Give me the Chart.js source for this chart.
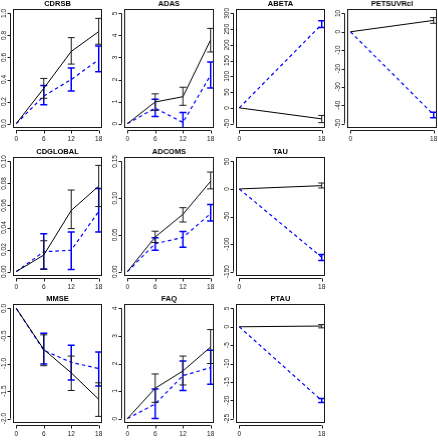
<!DOCTYPE html>
<html lang="en">
<head>
<meta charset="UTF-8">
<title>Change from baseline by visit</title>
<script src="https://cdn.jsdelivr.net/npm/chart.js"></script>
<style>
  body { margin: 0; background: #fff; }
  #wrap { position: relative; width: 438px; height: 440px; overflow: hidden; background: #fff; }
  #wrap canvas { position: absolute; }
</style>
</head>
<body>
<div id="wrap"></div>
<script>
// visit months on the x axis
const visits4 = [0, 6, 12, 18];
const visits2 = [0, 18];

// CDRSB
const cdrsbSolid = [0, 0.32, 0.655, 0.835];
const cdrsbSolidLo = [null, 0.23, 0.54, 0.72];
const cdrsbSolidHi = [null, 0.41, 0.78, 0.955];
const cdrsbDash = [0, 0.25, 0.40, 0.58];
const cdrsbDashLo = [null, 0.17, 0.295, 0.47];
const cdrsbDashHi = [null, 0.345, 0.505, 0.705];
const cdrsbTicks = [0, 0.2, 0.4, 0.6, 0.8, 1.0];
const cdrsbLabels = ["0.0", "0.2", "0.4", "0.6", "0.8", "1.0"];

// ADAS
const adasSolid = [0, 0.98, 1.22, 3.8];
const adasSolidLo = [null, 0.6, 0.83, 3.25];
const adasSolidHi = [null, 1.35, 1.65, 4.32];
const adasDash = [0, 0.7, 0.05, 2.2];
const adasDashLo = [null, 0.32, -0.35, 1.62];
const adasDashHi = [null, 1.1, 0.5, 2.79];
const adasTicks = [0, 1, 2, 3, 4, 5];
const adasLabels = ["0", "1", "2", "3", "4", "5"];

// ABETA
const abetaSolid = [0, -35];
const abetaSolidLo = [null, -47];
const abetaSolidHi = [null, -24];
const abetaDash = [0, 265];
const abetaDashLo = [null, 255];
const abetaDashHi = [null, 277];
const abetaTicks = [-50, 0, 50, 100, 150, 200, 250, 300];
const abetaLabels = ["-50", "0", "50", "100", "150", "200", "250", "300"];

// PETSUVRcl
const petSolid = [0, 6.2];
const petSolidLo = [null, 4.6];
const petSolidHi = [null, 7.7];
const petDash = [0, -45.2];
const petDashLo = [null, -46.8];
const petDashHi = [null, -43.8];
const petTicks = [-50, -40, -30, -20, -10, 0, 10];
const petLabels = ["-50", "-40", "-30", "-20", "-10", "0", "10"];

// CDGLOBAL
const cdgSolid = [0, 0.015, 0.0555, 0.0776];
const cdgSolidLo = [null, 0.002, 0.039, 0.059];
const cdgSolidHi = [null, 0.028, 0.074, 0.0964];
const cdgDash = [0, 0.018, 0.0194, 0.0546];
const cdgDashLo = [null, 0.0024, 0.002, 0.036];
const cdgDashHi = [null, 0.0343, 0.036, 0.0755];
const cdgTicks = [0, 0.02, 0.04, 0.06, 0.08, 0.10];
const cdgLabels = ["0.00", "0.02", "0.04", "0.06", "0.08", "0.10"];

// ADCOMS
const adcomsSolid = [0, 0.047, 0.078, 0.123];
const adcomsSolidLo = [null, 0.0396, 0.0675, 0.1126];
const adcomsSolidHi = [null, 0.055, 0.087, 0.1355];
const adcomsDash = [0, 0.038, 0.0465, 0.079];
const adcomsDashLo = [null, 0.029, 0.033, 0.069];
const adcomsDashHi = [null, 0.046, 0.0545, 0.0914];
const adcomsTicks = [0, 0.05, 0.10, 0.15];
const adcomsLabels = ["0.00", "0.05", "0.10", "0.15"];

// TAU
const tauSolid = [0, 6];
const tauSolidLo = [null, 1.8];
const tauSolidHi = [null, 10.8];
const tauDash = [0, -124];
const tauDashLo = [null, -130];
const tauDashHi = [null, -119];
const tauTicks = [-150, -100, -50, 0, 50];
const tauLabels = ["-150", "-100", "-50", "0", "50"];

// MMSE
const mmseSolid = [0, -0.745, -1.17, -1.65];
const mmseSolidLo = [null, -1.04, -1.49, -1.96];
const mmseSolidHi = [null, -0.48, -0.865, -1.35];
const mmseDash = [0, -0.76, -0.98, -1.09];
const mmseDashLo = [null, -1.01, -1.30, -1.41];
const mmseDashHi = [null, -0.45, -0.67, -0.79];
const mmseTicks = [-2.0, -1.5, -1.0, -0.5, 0.0];
const mmseLabels = ["-2.0", "-1.5", "-1.0", "-0.5", "0.0"];

// FAQ
const faqSolid = [0, 1.1, 1.73, 2.6];
const faqSolidLo = [null, 0.59, 1.22, 2.0];
const faqSolidHi = [null, 1.62, 2.27, 3.23];
const faqDash = [0, 0.53, 1.56, 1.85];
const faqDashLo = [null, 0.0, 1.02, 1.25];
const faqDashHi = [null, 1.07, 2.09, 2.48];
const faqTicks = [0, 1, 2, 3, 4];
const faqLabels = ["0", "1", "2", "3", "4"];

// PTAU
const ptauSolid = [0, 0.2];
const ptauSolidLo = [null, -0.3];
const ptauSolidHi = [null, 0.6];
const ptauDash = [0, -20.1];
const ptauDashLo = [null, -20.6];
const ptauDashHi = [null, -19.5];
const ptauTicks = [-25, -20, -15, -10, -5, 0, 5];
const ptauLabels = ["-25", "-20", "-15", "-10", "-5", "0", "5"];

// layout of the grid (plot boxes)
const boxLefts = [12.5, 124, 235.5, 347];
const boxTops = [9, 156.5, 304];
const boxW = 89.5;
const boxH = 119;
const padL = 13, padT = 10, padR = 8, padB = 17;

const panels = [
  { title: "CDRSB", row: 0, col: 0, x: visits4, s: cdrsbSolid, sLo: cdrsbSolidLo, sHi: cdrsbSolidHi, d: cdrsbDash, dLo: cdrsbDashLo, dHi: cdrsbDashHi, ticks: cdrsbTicks, labels: cdrsbLabels },
  { title: "ADAS", row: 0, col: 1, x: visits4, s: adasSolid, sLo: adasSolidLo, sHi: adasSolidHi, d: adasDash, dLo: adasDashLo, dHi: adasDashHi, ticks: adasTicks, labels: adasLabels },
  { title: "ABETA", row: 0, col: 2, x: visits2, s: abetaSolid, sLo: abetaSolidLo, sHi: abetaSolidHi, d: abetaDash, dLo: abetaDashLo, dHi: abetaDashHi, ticks: abetaTicks, labels: abetaLabels },
  { title: "PETSUVRcl", row: 0, col: 3, x: visits2, s: petSolid, sLo: petSolidLo, sHi: petSolidHi, d: petDash, dLo: petDashLo, dHi: petDashHi, ticks: petTicks, labels: petLabels },
  { title: "CDGLOBAL", row: 1, col: 0, x: visits4, s: cdgSolid, sLo: cdgSolidLo, sHi: cdgSolidHi, d: cdgDash, dLo: cdgDashLo, dHi: cdgDashHi, ticks: cdgTicks, labels: cdgLabels },
  { title: "ADCOMS", row: 1, col: 1, x: visits4, s: adcomsSolid, sLo: adcomsSolidLo, sHi: adcomsSolidHi, d: adcomsDash, dLo: adcomsDashLo, dHi: adcomsDashHi, ticks: adcomsTicks, labels: adcomsLabels },
  { title: "TAU", row: 1, col: 2, x: visits2, s: tauSolid, sLo: tauSolidLo, sHi: tauSolidHi, d: tauDash, dLo: tauDashLo, dHi: tauDashHi, ticks: tauTicks, labels: tauLabels },
  { title: "MMSE", row: 2, col: 0, x: visits4, s: mmseSolid, sLo: mmseSolidLo, sHi: mmseSolidHi, d: mmseDash, dLo: mmseDashLo, dHi: mmseDashHi, ticks: mmseTicks, labels: mmseLabels },
  { title: "FAQ", row: 2, col: 1, x: visits4, s: faqSolid, sLo: faqSolidLo, sHi: faqSolidHi, d: faqDash, dLo: faqDashLo, dHi: faqDashHi, ticks: faqTicks, labels: faqLabels },
  { title: "PTAU", row: 2, col: 2, x: visits2, s: ptauSolid, sLo: ptauSolidLo, sHi: ptauSolidHi, d: ptauDash, dLo: ptauDashLo, dHi: ptauDashHi, ticks: ptauTicks, labels: ptauLabels }
];

const FONT = '"Liberation Sans", Arial, sans-serif';
const INK = "#1a1a1a";

// R-like axes, box, title and error bars
const rStyle = {
  id: "rStyle",
  afterDatasetDraw(chart, args) {
    const ds = chart.data.datasets[args.index];
    const a = chart.chartArea;
    const xs = chart.scales.x, ys = chart.scales.y;
    const ctx = chart.ctx;
    ctx.save();
    ctx.beginPath();
    ctx.rect(a.left, a.top, a.right - a.left, a.bottom - a.top);
    ctx.clip();
    ctx.strokeStyle = ds.barColor;
    ctx.lineWidth = ds.barWidth;
    ctx.setLineDash([]);
    ds.data.forEach((p, i) => {
      if (ds.lo[i] == null) return;
      const px = xs.getPixelForValue(p.x);
      const y1 = ys.getPixelForValue(ds.lo[i]);
      const y2 = ys.getPixelForValue(ds.hi[i]);
      ctx.beginPath();
      ctx.moveTo(px, y1); ctx.lineTo(px, y2);
      ctx.moveTo(px - 3.5, y1); ctx.lineTo(px + 3.5, y1);
      ctx.moveTo(px - 3.5, y2); ctx.lineTo(px + 3.5, y2);
      ctx.stroke();
    });
    ctx.restore();
  },
  afterDraw(chart, args, opts) {
    const a = chart.chartArea;
    const xs = chart.scales.x, ys = chart.scales.y;
    const ctx = chart.ctx;
    ctx.save();
    ctx.strokeStyle = INK;
    ctx.fillStyle = INK;
    ctx.lineWidth = 1;
    ctx.strokeRect(Math.round(a.left) + 0.5, Math.round(a.top) + 0.5,
                   Math.round(a.right - a.left) - 1, Math.round(a.bottom - a.top) - 1);

    // x axis
    const xt = opts.xTicks;
    const y0 = Math.round(a.bottom) + 2.5;
    ctx.beginPath();
    ctx.moveTo(xs.getPixelForValue(xt[0]), y0);
    ctx.lineTo(xs.getPixelForValue(xt[xt.length - 1]), y0);
    xt.forEach(v => {
      const px = Math.round(xs.getPixelForValue(v)) + 0.5;
      ctx.moveTo(px, y0); ctx.lineTo(px, y0 + 3);
    });
    ctx.stroke();
    ctx.font = "6.5px " + FONT;
    ctx.textAlign = "center";
    ctx.textBaseline = "middle";
    xt.forEach(v => ctx.fillText(String(v), xs.getPixelForValue(v), y0 + 9));

    // y axis
    const yt = opts.yTicks;
    const x0 = Math.round(a.left) - 2.5;
    ctx.beginPath();
    ctx.moveTo(x0, ys.getPixelForValue(yt[0]));
    ctx.lineTo(x0, ys.getPixelForValue(yt[yt.length - 1]));
    yt.forEach(v => {
      const py = Math.round(ys.getPixelForValue(v)) + 0.5;
      ctx.moveTo(x0, py); ctx.lineTo(x0 - 3, py);
    });
    ctx.stroke();
    yt.forEach((v, i) => {
      ctx.save();
      ctx.translate(x0 - 6.5, ys.getPixelForValue(v));
      ctx.rotate(-Math.PI / 2);
      ctx.fillText(opts.yLabels[i], 0, 0);
      ctx.restore();
    });

    // title
    ctx.font = "bold 7.5px " + FONT;
    ctx.fillStyle = "#000";
    ctx.fillText(opts.title, (a.left + a.right) / 2, a.top - 5);
    ctx.restore();
  }
};

const wrap = document.getElementById("wrap");

panels.forEach(p => {
  const cv = document.createElement("canvas");
  const w = padL + boxW + padR;
  const h = padT + boxH + padB;
  cv.width = w;
  cv.height = h;
  cv.style.width = w + "px";
  cv.style.height = h + "px";
  cv.style.left = (boxLefts[p.col] - padL) + "px";
  cv.style.top = (boxTops[p.row] - padT) + "px";
  wrap.appendChild(cv);

  const yMin = p.ticks[0], yMax = p.ticks[p.ticks.length - 1];
  const yExt = (yMax - yMin) * 0.04;

  new Chart(cv, {
    type: "line",
    data: {
      datasets: [
        {
          data: p.x.map((v, i) => ({ x: v, y: p.s[i] })),
          lo: p.sLo, hi: p.sHi,
          borderColor: "#000",
          borderWidth: 1,
          pointRadius: 0,
          tension: 0,
          barColor: "#1a1a1a",
          barWidth: 1
        },
        {
          data: p.x.map((v, i) => ({ x: v, y: p.d[i] })),
          lo: p.dLo, hi: p.dHi,
          borderColor: "#0000ff",
          borderWidth: 1.2,
          borderDash: [3.5, 3],
          pointRadius: 0,
          tension: 0,
          barColor: "#0000ff",
          barWidth: 1.5
        }
      ]
    },
    options: {
      responsive: false,
      animation: false,
      devicePixelRatio: 1,
      layout: { padding: { left: padL, top: padT, right: padR, bottom: padB } },
      scales: {
        x: { type: "linear", display: false, min: -0.72, max: 18.72 },
        y: { type: "linear", display: false, min: yMin - yExt, max: yMax + yExt }
      },
      plugins: {
        legend: { display: false },
        tooltip: { enabled: false },
        rStyle: { title: p.title, xTicks: p.x, yTicks: p.ticks, yLabels: p.labels }
      }
    },
    plugins: [rStyle]
  });
});
</script>
</body>
</html>
